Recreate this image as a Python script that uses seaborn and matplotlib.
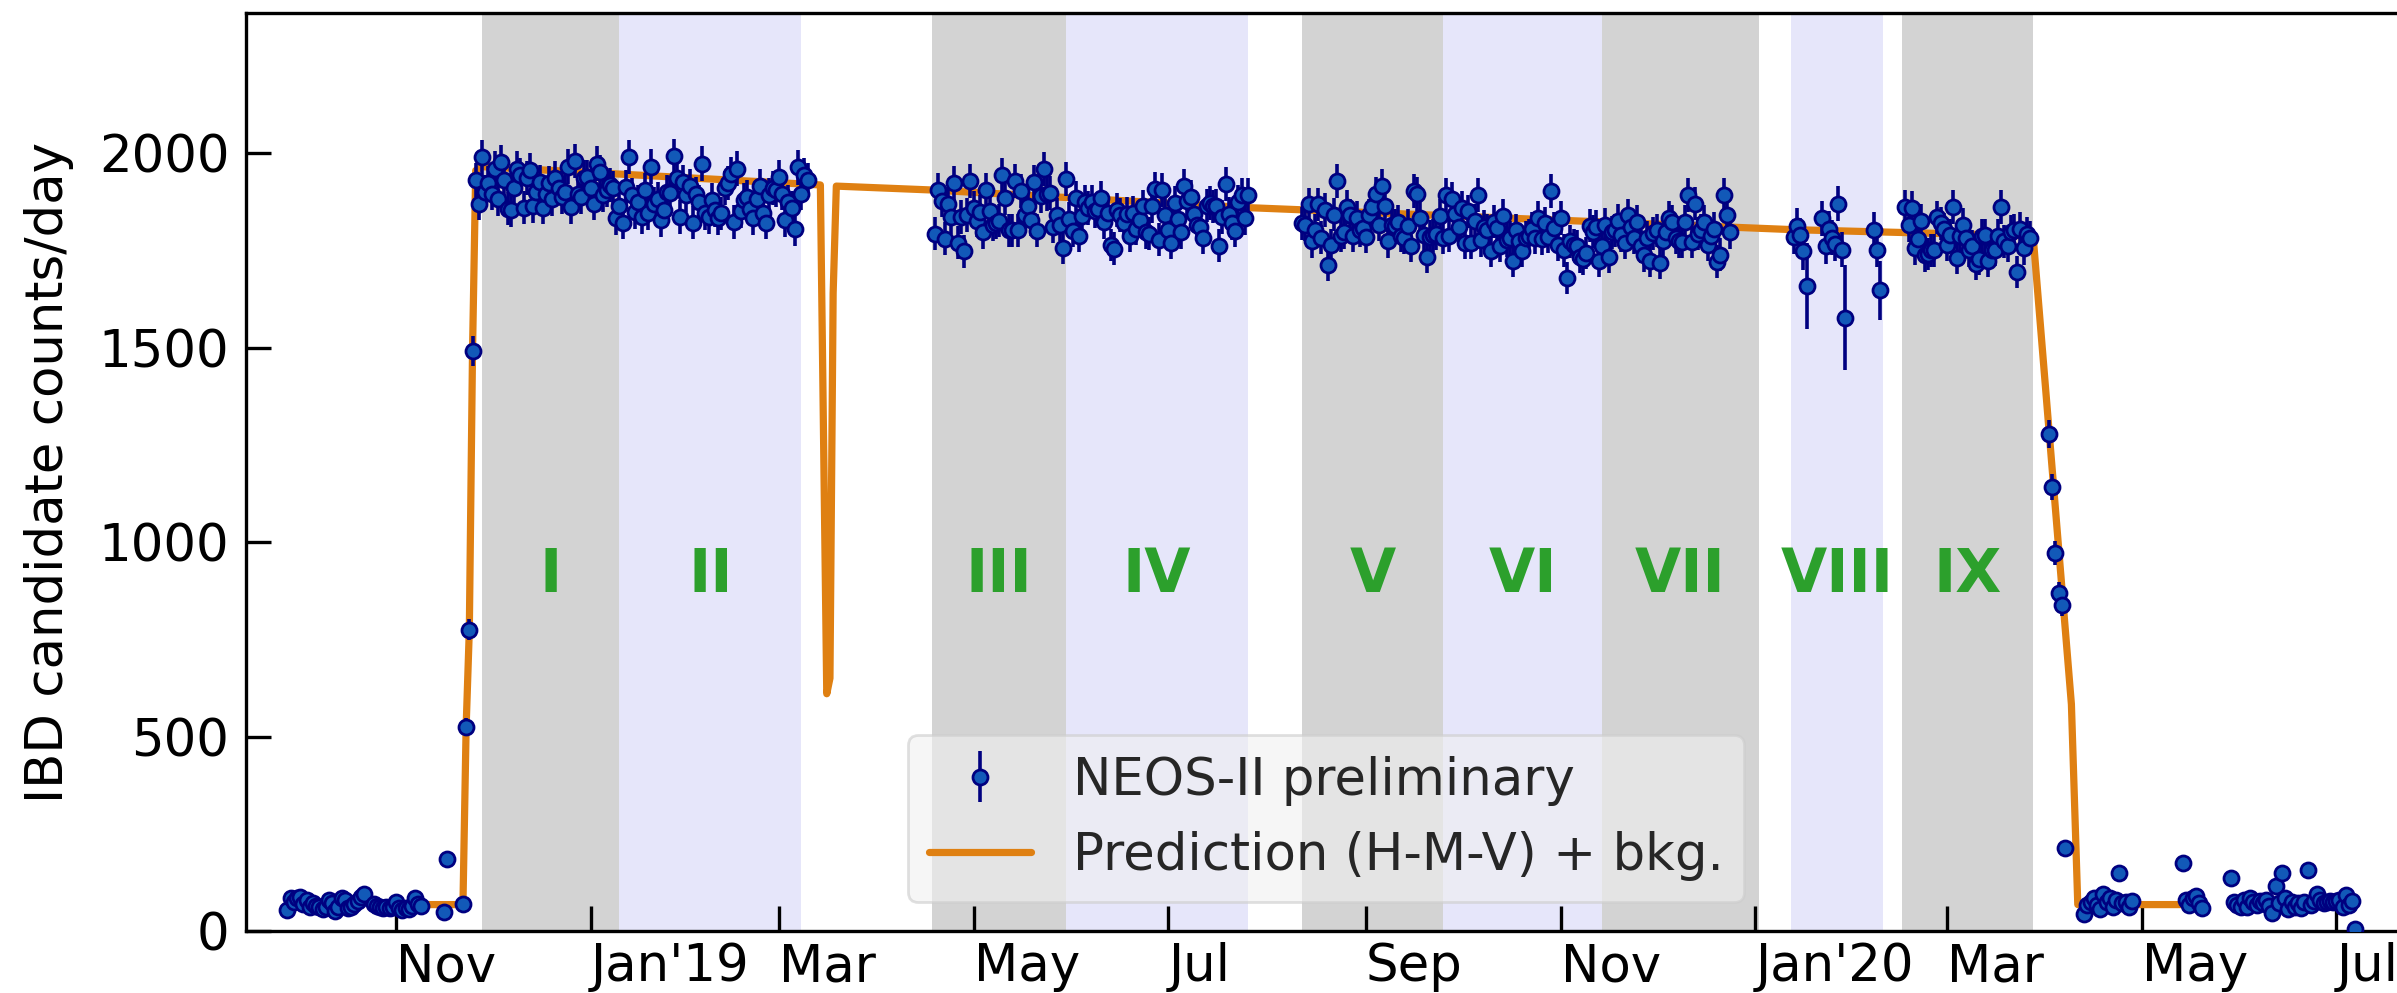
import numpy as np
import pandas as pd
import matplotlib
matplotlib.use("Agg")
import matplotlib.pyplot as plt
import seaborn as sns

# ---------------------------------------------------------------- data
# Daily IBD candidate rates, one value per day from each segment's start date
seg_a1_start = "2018-09-28"
seg_a1 = [54, 86, 75, 84, 88, 69, 79, 62, 73, 64, 61, 56, 62, 81, 73, 52, 62, 86,
          79, 58, 62, 69, 78, 88, 95]
seg_a2_start = "2018-10-25"
seg_a2 = [69, 64, 61, 58, 62, 58, 62, 75, 58, 54, 58, 56, 64, 84, 69, 64]

# isolated days before reactor start-up
iso_dates = ["2018-11-16", "2018-11-17", "2018-11-22"]
iso_vals = [48, 186, 69]

seg_b_start = "2018-11-23"
seg_b = [525, 775, 1490,
         1930, 1870, 1989, 1900, 1923, 1896, 1960, 1881, 1977, 1930, 1857, 1853,
         1911, 1960, 1943, 1860, 1935, 1956, 1864, 1900, 1926, 1860, 1896, 1923,
         1881, 1935, 1909, 1887, 1900, 1965, 1862, 1980, 1896, 1887, 1937, 1939,
         1909, 1870, 1973, 1952, 1892, 1905, 1917, 1909, 1832, 1864, 1821, 1913,
         1990, 1892, 1849, 1875, 1836, 1906, 1846, 1965, 1870, 1881, 1828, 1853,
         1900, 1898, 1992, 1935, 1836, 1926, 1892, 1915, 1821, 1896, 1875, 1973,
         1845, 1836, 1879, 1853, 1832, 1845, 1911, 1923, 1946, 1823, 1960, 1850,
         1879, 1887, 1857, 1832, 1883, 1915, 1845, 1821, 1892, 1911, 1906, 1938,
         1896, 1828, 1875, 1860, 1804, 1963, 1896, 1943, 1930]

seg_c_start = "2019-04-19"
seg_c = [1792, 1905, 1878, 1780, 1870, 1836, 1922, 1770, 1836, 1747,
         1841, 1929, 1860, 1826, 1849, 1797, 1905, 1851, 1816, 1821,
         1826, 1944, 1885, 1802, 1802, 1929, 1802, 1902, 1841, 1865,
         1829, 1925, 1800, 1890, 1959, 1895, 1898, 1811, 1841, 1816,
         1757, 1934, 1831, 1800, 1885, 1787, 1839, 1875, 1859, 1875,
         1851, 1856, 1885, 1823, 1846, 1764, 1754, 1853, 1841, 1821,
         1843, 1787, 1846, 1806, 1829, 1863, 1797, 1792, 1863, 1908,
         1777, 1905, 1841, 1802, 1770, 1872, 1831, 1797, 1915, 1878,
         1888, 1843, 1816, 1809, 1782, 1865, 1872, 1863, 1865, 1762,
         1836, 1920, 1843, 1819, 1800, 1875, 1892, 1833, 1892]

seg_d_start = "2019-08-12"
seg_d = [1819, 1816, 1868, 1773, 1801, 1868, 1782, 1853, 1712, 1764,
         1842, 1929, 1787, 1796, 1861, 1840, 1787, 1833, 1801, 1807,
         1785, 1840, 1862, 1895, 1816, 1916, 1865, 1773, 1815, 1813,
         1824, 1787, 1782, 1813, 1761, 1902, 1895, 1833, 1789, 1734,
         1785, 1789, 1792, 1838, 1782, 1893, 1787, 1881, 1844, 1810,
         1859, 1769, 1850, 1769, 1826, 1893, 1776, 1810, 1801, 1748,
         1824, 1807, 1761, 1838, 1776, 1782, 1723, 1801, 1773, 1748,
         1782, 1787, 1805, 1782, 1833, 1780, 1819, 1785, 1902, 1807,
         1764, 1833, 1750, 1679, 1773, 1764, 1760, 1732, 1727, 1743,
         1813, 1798, 1810, 1723, 1761, 1815, 1732, 1796, 1801, 1826,
         1789, 1769, 1840, 1810, 1782, 1824, 1760, 1737, 1782, 1723,
         1794, 1801, 1718, 1773, 1796, 1833, 1824, 1782, 1773, 1771,
         1824, 1893, 1771, 1870, 1792, 1801, 1824, 1764, 1787, 1805,
         1721, 1739, 1893, 1842, 1796]

# partial days in January/February 2020 (larger uncertainties)
seg_e_dates = ["2020-01-13", "2020-01-14", "2020-01-15", "2020-01-16", "2020-01-17",
               "2020-01-22", "2020-01-23", "2020-01-24", "2020-01-25", "2020-01-26",
               "2020-01-27", "2020-01-28", "2020-01-29", "2020-02-07", "2020-02-08",
               "2020-02-09"]
seg_e = [1785, 1813, 1789, 1748, 1658, 1833, 1760, 1805, 1782, 1767,
         1870, 1752, 1576, 1801, 1752, 1647]
seg_e_err = [45, 45, 45, 48, 110, 45, 45, 45, 45, 45, 45, 45, 135, 48, 45, 75]

seg_f_start = "2020-02-17"
seg_f = [1861, 1815, 1859, 1755, 1780, 1826, 1737, 1741, 1750, 1750,
         1835, 1819, 1804, 1764, 1789, 1862, 1730, 1787, 1816, 1782,
         1750, 1760, 1714, 1727, 1787, 1789, 1723, 1750, 1752, 1787,
         1861, 1773, 1761, 1798, 1801, 1695, 1805, 1755, 1792, 1782]

seg_g_start = "2020-04-02"
seg_g = [1278, 1141, 972, 869, 838, 213]

seg_h_start = "2020-04-13"
seg_h = [43, 66, 75, 84, 66, 57, 94, 75, 84, 61, 80, 149, 71, 75, 61, 77]

seg_i_start = "2020-05-14"
seg_i = [175, 80, 66, 84, 89, 71, 59]

seg_j_start = "2020-05-29"
seg_j = [137, 74, 66, 61, 80, 61, 84, 75, 66, 77, 71, 80, 64, 47, 117, 71, 148, 84,
         57, 75, 61, 71, 59, 75, 157, 66, 77, 94, 80, 71, 75, 77, 75, 77, 80, 61,
         92, 66, 77, 6]

# prediction (H-M-V) + background, piecewise
pred_dates = ["2018-10-24", "2018-11-22", "2018-11-23", "2018-11-24", "2018-11-25",
              "2018-11-26", "2018-11-28", "2019-03-14", "2019-03-16", "2019-03-17",
              "2019-03-18", "2019-03-19", "2019-04-18", "2019-07-25", "2020-01-13",
              "2020-03-28", "2020-04-09", "2020-04-11", "2020-05-14"]
pred_vals = [68, 68, 525, 775, 1490, 1955, 1965, 1918, 610, 650, 1640, 1915, 1905,
             1860, 1803, 1787, 583, 68, 68]

# analysis periods
period_labels = ["I", "II", "III", "IV", "V", "VI", "VII", "VIII", "IX"]
period_starts = ["2018-11-28", "2019-01-10", "2019-04-18", "2019-05-30", "2019-08-12",
                 "2019-09-25", "2019-11-14", "2020-01-12", "2020-02-16"]
period_ends = ["2019-01-10", "2019-03-08", "2019-05-30", "2019-07-26", "2019-09-25",
               "2019-11-14", "2020-01-02", "2020-02-10", "2020-03-28"]
period_colors = ["lightgray", "lavender", "lightgray", "lavender", "lightgray",
                 "lavender", "lightgray", "lavender", "lightgray"]

tick_dates = ["2018-11-01", "2019-01-01", "2019-03-01", "2019-05-01", "2019-07-01",
              "2019-09-01", "2019-11-01", "2020-01-01", "2020-03-01", "2020-05-01",
              "2020-07-01"]
tick_labels = ["Nov", "Jan'19", "Mar", "May", "Jul", "Sep", "Nov", "Jan'20", "Mar",
               "May", "Jul"]

# ---------------------------------------------------------------- assemble
def daily(start, vals):
    return list(pd.date_range(start, periods=len(vals), freq="D"))

x_all, y_all, e_all = [], [], []
for start, vals in [(seg_a1_start, seg_a1), (seg_a2_start, seg_a2)]:
    x_all += daily(start, vals); y_all += vals; e_all += list(np.sqrt(vals))
x_all += list(pd.to_datetime(iso_dates)); y_all += iso_vals; e_all += list(np.sqrt(iso_vals))
for start, vals in [(seg_b_start, seg_b), (seg_c_start, seg_c), (seg_d_start, seg_d)]:
    x_all += daily(start, vals); y_all += vals; e_all += list(np.sqrt(vals))
x_all += list(pd.to_datetime(seg_e_dates)); y_all += seg_e; e_all += seg_e_err
for start, vals in [(seg_f_start, seg_f), (seg_g_start, seg_g), (seg_h_start, seg_h),
                    (seg_i_start, seg_i), (seg_j_start, seg_j)]:
    x_all += daily(start, vals); y_all += vals; e_all += list(np.sqrt(vals))

data = pd.DataFrame({"date": x_all, "rate": y_all, "err": e_all})
pred = pd.DataFrame({"date": pd.to_datetime(pred_dates), "rate": pred_vals})

# ---------------------------------------------------------------- style
sns.set_style("white")
plt.rcParams["font.family"] = ["DejaVu Sans"]

ORANGE = "#df8012"
BLUE = "#1259b8"
NAVY = "#000080"
GREEN = "#2ca02c"

fig = plt.figure(figsize=(11.985, 4.965), dpi=200)
ax = fig.add_axes([0.1026, 0.0624, 0.8987, 0.9245])

for s, e, c in zip(period_starts, period_ends, period_colors):
    ax.axvspan(pd.Timestamp(s), pd.Timestamp(e), color=c, lw=0, zorder=0)

sns.lineplot(data=pred, x="date", y="rate", ax=ax, color=ORANGE, lw=2.6,
             estimator=None, sort=True, zorder=2, label="Prediction (H-M-V) + bkg.")

eb = ax.errorbar(data["date"], data["rate"], yerr=data["err"], fmt="o", ms=5.4,
                 mfc=BLUE, mec=NAVY, mew=1.0, ecolor=NAVY, elinewidth=1.3,
                 capsize=0, zorder=3, label="NEOS-II preliminary")

for lab, s, e in zip(period_labels, period_starts, period_ends):
    ts, te = pd.Timestamp(s), pd.Timestamp(e)
    ax.text(ts + (te - ts) / 2, 915, lab, ha="center", va="center", color=GREEN,
            fontsize=21.5, fontweight="bold", zorder=4)

ax.set_xlim(pd.Timestamp("2018-09-15"), pd.Timestamp("2020-07-21"))
ax.set_ylim(0, 2360)
ax.set_yticks([0, 500, 1000, 1500, 2000])
ax.set_xticks(pd.to_datetime(tick_dates))
ax.set_xticklabels(tick_labels, ha="left")
ax.tick_params(axis="both", direction="in", length=9, width=1.2, labelsize=18.5,
               colors="black", top=False, right=False, bottom=True, left=True)
ax.tick_params(axis="x", pad=4)
ax.tick_params(axis="y", pad=6)
ax.set_xlabel("")
ax.set_ylabel("IBD candidate counts/day", fontsize=18.5, labelpad=9, color="black")
for sp in ax.spines.values():
    sp.set_color("black")
    sp.set_linewidth(1.2)

handles, labels = ax.get_legend_handles_labels()
order = [labels.index("NEOS-II preliminary"), labels.index("Prediction (H-M-V) + bkg.")]
leg = ax.legend([handles[i] for i in order], [labels[i] for i in order],
                loc="lower center", bbox_to_anchor=(0.5014, 0.0316), borderaxespad=0,
                fontsize=18.5, frameon=True, fancybox=True, framealpha=0.6,
                facecolor="#f0f0f0", edgecolor="#cccccc")
leg.get_frame().set_linewidth(1.0)

fig.savefig("out.png", dpi=200)
